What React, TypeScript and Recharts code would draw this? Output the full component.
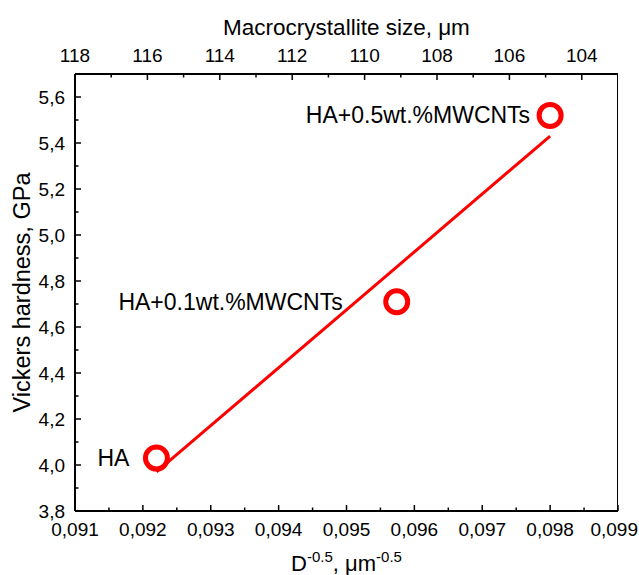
import React from "react";
import {
  ScatterChart,
  Scatter,
  XAxis,
  YAxis,
  Label,
} from "recharts";

// ---- data ----
const sampleNames = ["HA", "HA+0.1wt.%MWCNTs", "HA+0.5wt.%MWCNTs"];
const invSqrtSize = [0.0922, 0.09574, 0.098];
const hardness = [4.03, 4.71, 5.52];

const fitX = [0.0922, 0.098];
const fitY = [3.97, 5.43];

const xDomain = [0.091, 0.099];
const xMajorTicks = [0.091, 0.092, 0.093, 0.094, 0.095, 0.096, 0.097, 0.098, 0.099];
const xMinorTicks = [0.0915, 0.0925, 0.0935, 0.0945, 0.0955, 0.0965, 0.0975, 0.0985];
const yMajorTicks = [3.8, 4.0, 4.2, 4.4, 4.6, 4.8, 5.0, 5.2, 5.4, 5.6];
const yMinorTicks = [3.9, 4.1, 4.3, 4.5, 4.7, 4.9, 5.1, 5.3, 5.5];
const topMajorTicks = [118, 116, 114, 112, 110, 108, 106, 104];
const topMinorTicks = [117, 115, 113, 111, 109, 107, 105];
const topDomain = [103, 118];
const yDomain = [3.8, 5.7];

// label placement (style, kept apart from the data)
const labelDx = [-27, -54, -20];

const points = sampleNames.map((name, i) => ({
  name,
  x: invSqrtSize[i],
  y: hardness[i],
}));
const fitLine = fitX.map((x, i) => ({ x, y: fitY[i] }));
// anchor series for the top frame axis (not drawn)
const frameAnchor = topDomain.map((t, i) => ({ t, y: yDomain[i] }));
// right frame edge, drawn through the scales
const rightEdge = yDomain.map((y) => ({ x: xDomain[1], y }));

const FONT = "'Liberation Sans', Arial, sans-serif";
const RED = "#ff0000";
const CHART_W = 639;

const isIn = (arr: number[], v: number) => arr.some((a) => Math.abs(a - v) < 1e-7);

const BottomTick = (props: any) => {
  const { x, y, payload } = props;
  const v = payload.value;
  const major = isIn(xMajorTicks, v);
  const half = 24;
  const overflow = x + half > CHART_W;
  return (
    <g>
      <line x1={x} x2={x} y1={y} y2={y - (major ? 6 : 3.5)} stroke="#000" strokeWidth={1.5} />
      {major && (
        <text
          x={overflow ? CHART_W - 1 : x}
          y={y + 25}
          textAnchor={overflow ? "end" : "middle"}
          fontSize={19}
          fontFamily={FONT}
          fill="#000"
        >
          {v.toFixed(3).replace(".", ",")}
        </text>
      )}
    </g>
  );
};

const TopTick = (props: any) => {
  const { x, y, payload } = props;
  const v = payload.value;
  const major = isIn(topMajorTicks, v);
  return (
    <g>
      <line x1={x} x2={x} y1={y} y2={y + (major ? 6 : 3.5)} stroke="#000" strokeWidth={1.5} />
      {major && (
        <text x={x} y={y - 12} textAnchor="middle" fontSize={19} fontFamily={FONT} fill="#000">
          {String(v)}
        </text>
      )}
    </g>
  );
};

const LeftTick = (props: any) => {
  const { x, y, payload } = props;
  const v = payload.value;
  const major = isIn(yMajorTicks, v);
  return (
    <g>
      <line x1={x} x2={x + (major ? 6 : 3.5)} y1={y} y2={y} stroke="#000" strokeWidth={1.5} />
      {major && (
        <text x={x - 10} y={y + 7} textAnchor="end" fontSize={19} fontFamily={FONT} fill="#000">
          {v.toFixed(1).replace(".", ",")}
        </text>
      )}
    </g>
  );
};

const PointShape = (props: any) => {
  const { cx, cy, payload } = props;
  if (cx == null || cy == null) return <g />;
  const idx = sampleNames.indexOf(payload.name);
  return (
    <g>
      <circle cx={cx} cy={cy} r={11} fill="#fff" stroke={RED} strokeWidth={5} />
      <text
        x={cx + labelDx[idx]}
        y={cy + 8}
        textAnchor="end"
        fontSize={23}
        fontFamily={FONT}
        fill="#000"
      >
        {payload.name}
      </text>
    </g>
  );
};

const NoShape = () => <g />;

const BottomTitle = (props: any) => {
  const vb = props.viewBox || {};
  const cx = vb.x + vb.width / 2;
  return (
    <text x={cx} y={vb.y + 60} textAnchor="middle" fontSize={22} fontFamily={FONT} fill="#000">
      <tspan>D</tspan>
      <tspan dy={-9} fontSize={15}>-0.5</tspan>
      <tspan dy={9}>, μm</tspan>
      <tspan dy={-9} fontSize={15}>-0.5</tspan>
    </text>
  );
};

const TopTitle = (props: any) => {
  const vb = props.viewBox || {};
  const cx = vb.x + vb.width / 2;
  return (
    <text x={cx} y={35} textAnchor="middle" fontSize={22.5} fontFamily={FONT} fill="#000">
      Macrocrystallite size, μm
    </text>
  );
};

const LeftTitle = (props: any) => {
  const vb = props.viewBox || {};
  const cy = vb.y + vb.height / 2;
  const x = 30;
  return (
    <text
      x={x}
      y={cy}
      transform={`rotate(-90, ${x}, ${cy})`}
      textAnchor="middle"
      fontSize={23.5}
      fontFamily={FONT}
      fill="#000"
    >
      Vickers hardness, GPa
    </text>
  );
};

export default function App() {
  const xTicks = [...xMajorTicks, ...xMinorTicks].sort((a, b) => a - b);
  const yTicks = [...yMajorTicks, ...yMinorTicks].sort((a, b) => a - b);
  const topTicks = [...topMajorTicks, ...topMinorTicks].sort((a, b) => a - b);
  return (
    <div style={{ position: "absolute", left: 0, top: 0, background: "#fff" }}>
      <ScatterChart
        width={CHART_W}
        height={575}
        margin={{ top: 0, right: 21, bottom: 0, left: 0 }}
      >
        <XAxis
          xAxisId="bottom"
          orientation="bottom"
          type="number"
          dataKey="x"
          domain={xDomain}
          ticks={xTicks}
          interval={0}
          height={64}
          tickSize={0}
          tickMargin={0}
          tickLine={false}
          axisLine={{ stroke: "#000", strokeWidth: 2 }}
          tick={<BottomTick />}
          allowDataOverflow
        >
          <Label content={<BottomTitle />} />
        </XAxis>
        <XAxis
          xAxisId="top"
          orientation="top"
          type="number"
          dataKey="t"
          domain={topDomain}
          reversed
          ticks={topTicks}
          interval={0}
          height={74}
          tickSize={0}
          tickMargin={0}
          tickLine={false}
          axisLine={{ stroke: "#000", strokeWidth: 2 }}
          tick={<TopTick />}
          allowDataOverflow
        >
          <Label content={<TopTitle />} />
        </XAxis>
        <YAxis
          yAxisId="left"
          orientation="left"
          type="number"
          dataKey="y"
          domain={yDomain}
          ticks={yTicks}
          interval={0}
          width={75}
          tickSize={0}
          tickMargin={0}
          tickLine={false}
          axisLine={{ stroke: "#000", strokeWidth: 2 }}
          tick={<LeftTick />}
          allowDataOverflow
        >
          <Label content={<LeftTitle />} />
        </YAxis>
        <Scatter
          xAxisId="top"
          yAxisId="left"
          data={frameAnchor}
          dataKey="y"
          shape={<NoShape />}
          isAnimationActive={false}
        />
        <Scatter
          xAxisId="bottom"
          yAxisId="left"
          data={rightEdge}
          line={{ stroke: "#000", strokeWidth: 2 }}
          lineType="joint"
          shape={<NoShape />}
          isAnimationActive={false}
        />
        <Scatter
          xAxisId="bottom"
          yAxisId="left"
          data={fitLine}
          line={{ stroke: RED, strokeWidth: 3 }}
          lineType="joint"
          shape={<NoShape />}
          isAnimationActive={false}
        />
        <Scatter
          xAxisId="bottom"
          yAxisId="left"
          data={points}
          shape={<PointShape />}
          isAnimationActive={false}
        />
      </ScatterChart>
    </div>
  );
}
